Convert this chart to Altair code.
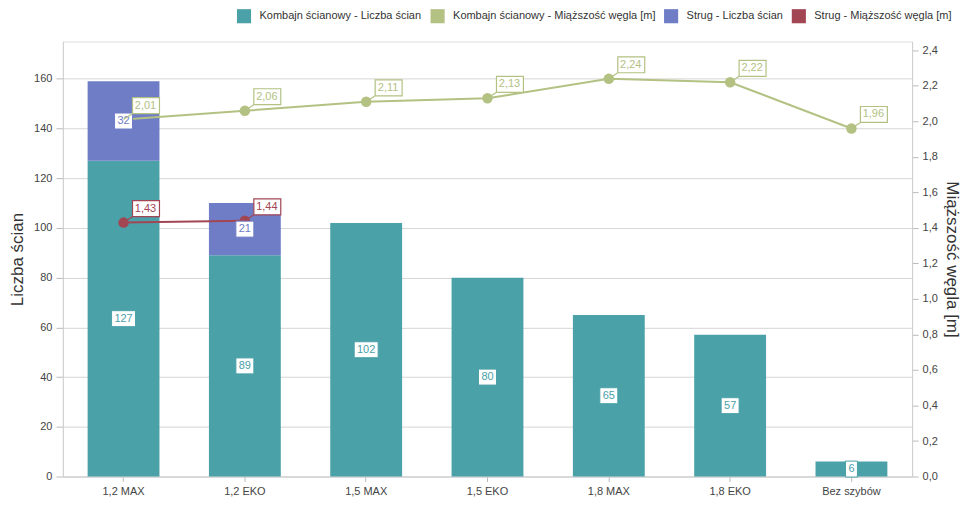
import altair as alt
import pandas as pd

categories = ["1,2 MAX", "1,2 EKO", "1,5 MAX", "1,5 EKO", "1,8 MAX", "1,8 EKO", "Bez szybów"]
kombajn_count = [127, 89, 102, 80, 65, 57, 6]
strug_categories = ["1,2 MAX", "1,2 EKO"]
strug_count = [32, 21]
kombajn_thickness = [2.01, 2.06, 2.11, 2.13, 2.24, 2.22, 1.96]
strug_thickness = [1.43, 1.44]

series = [
    "Kombajn ścianowy - Liczba ścian",
    "Kombajn ścianowy - Miąższość węgla [m]",
    "Strug - Liczba ścian",
    "Strug - Miąższość węgla [m]",
]
colors = ["#4AA1A8", "#B3C183", "#6F7DC6", "#A24654"]
left_ticks = [0, 20, 40, 60, 80, 100, 120, 140, 160]
right_ticks = [0.0, 0.2, 0.4, 0.6, 0.8, 1.0, 1.2, 1.4, 1.6, 1.8, 2.0, 2.2, 2.4]

FONT = "Liberation Sans"

bars_df = pd.DataFrame(
    [{"cat": c, "series": series[0], "value": v, "order": 0} for c, v in zip(categories, kombajn_count)]
    + [{"cat": c, "series": series[2], "value": v, "order": 1} for c, v in zip(strug_categories, strug_count)]
)
lines_df = pd.DataFrame(
    [{"cat": c, "series": series[1], "v": v} for c, v in zip(categories, kombajn_thickness)]
    + [{"cat": c, "series": series[3], "v": v} for c, v in zip(strug_categories, strug_thickness)]
)

xscale = alt.Scale(domain=categories, paddingInner=0.4, paddingOuter=0.2)
ly = alt.Scale(domain=[0, 175], nice=False, zero=True)
ry = alt.Scale(domain=[0, 2.45], nice=False, zero=True)
sc = alt.Scale(domain=series, range=colors)

x_axis = alt.Axis(title=None, labelAngle=0, labelFontSize=11, labelColor="#444",
                  labelFont=FONT, tickSize=5, tickColor="#bbb", domainColor="#cfcfcf",
                  labelPadding=4)
x_enc = alt.X("cat:N", scale=xscale, sort=categories, axis=x_axis)


def box(hw, hh=0.8):
    return f"M{-hw},{-hh}L{hw},{-hh}L{hw},{hh}L{-hw},{hh}Z"


box_paths = [box(0.6), box(0.9), box(1.2), box(1.45)]
line_label_path = "M0,0L0.9,-0.6M0.9,-0.6L3.6,-0.6L3.6,-2.2L0.9,-2.2Z"

stacked = alt.Chart(bars_df).transform_stack(
    stack="value", as_=["y0", "y1"], groupby=["cat"], sort=[alt.SortField("order", order="ascending")]
).transform_calculate(mid="(datum.y0 + datum.y1) / 2", lbl="'' + datum.value",
                      nch="'' + length('' + datum.value)")

bars = stacked.mark_bar(size=72).encode(
    x=x_enc,
    y=alt.Y("y0:Q", scale=ly,
            axis=alt.Axis(orient="left", values=left_ticks, title="Liczba ścian", titleFontSize=17,
                          titleFontWeight="normal", titleColor="#333", titleFont=FONT, labelFont=FONT,
                          labelFontSize=11, labelColor="#444", grid=True, gridColor="#d6d6d6",
                          domainColor="#cfcfcf", tickColor="#bbb", tickSize=7, labelPadding=4,
                          titlePadding=7)),
    y2="y1:Q",
    color=alt.Color("series:N", scale=sc,
                    legend=alt.Legend(title=None, orient="none", legendX=174, legendY=-33,
                                      direction="horizontal", columns=4, symbolType="square",
                                      symbolSize=200, symbolStrokeWidth=0, labelFontSize=11,
                                      labelFont=FONT, labelColor="#333", columnPadding=8,
                                      labelOffset=8, labelLimit=0, values=series)),
)

lines = alt.Chart(lines_df).mark_line(strokeWidth=2).encode(
    x=x_enc,
    y=alt.Y("v:Q", scale=ry,
            axis=alt.Axis(orient="right", values=right_ticks, title="Miąższość węgla [m]", titleFontSize=17,
                          titleFontWeight="normal", titleColor="#333", titleFont=FONT, labelFont=FONT,
                          labelFontSize=11, labelColor="#444", grid=False, domainColor="#cfcfcf",
                          tickColor="#bbb", tickSize=6, labelPadding=4, titlePadding=5,
                          labelExpr="replace(format(datum.value, '.1f'), '.', ',')")),
    stroke=alt.Stroke("series:N", scale=sc, legend=None),
    detail="series:N",
)

points = alt.Chart(lines_df).mark_point(filled=True, size=110, opacity=1).encode(
    x=x_enc,
    y=alt.Y("v:Q", scale=ry, axis=None),
    fill=alt.Fill("series:N", scale=sc, legend=None),
)

bar_boxes = stacked.mark_point(filled=True, fill="white", size=400, opacity=1, strokeWidth=1,
                               strokeOpacity=1).encode(
    x=x_enc,
    y=alt.Y("mid:Q", scale=ly, axis=None),
    shape=alt.Shape("nch:N", scale=alt.Scale(domain=["1", "2", "3", "4"], range=box_paths), legend=None),
    stroke=alt.Stroke("series:N", scale=sc, legend=None),
)
bar_text = stacked.mark_text(fontSize=11, font=FONT, baseline="middle", align="center").encode(
    x=x_enc,
    y=alt.Y("mid:Q", scale=ly, axis=None),
    text="lbl:N",
    fill=alt.Fill("series:N", scale=sc, legend=None),
)

lab = alt.Chart(lines_df).transform_calculate(lbl="replace(format(datum.v, '.2f'), '.', ',')")
line_boxes = lab.mark_point(filled=True, fill="white", size=400, opacity=1, strokeWidth=1.2,
                            strokeOpacity=1, shape=line_label_path).encode(
    x=x_enc,
    y=alt.Y("v:Q", scale=ry, axis=None),
    stroke=alt.Stroke("series:N", scale=sc, legend=None),
)
line_text = lab.mark_text(fontSize=11, font=FONT, baseline="middle", align="center", dx=22, dy=-14).encode(
    x=x_enc,
    y=alt.Y("v:Q", scale=ry, axis=None),
    text="lbl:N",
    fill=alt.Fill("series:N", scale=sc, legend=None),
)

chart = alt.layer(bars, lines, points, bar_boxes, bar_text, line_boxes, line_text).resolve_scale(
    y="independent"
).properties(
    width=851, height=436, padding={"left": 0, "top": 0, "right": 0, "bottom": 0}
).configure_view(stroke="#d9d9d9").configure(background="white")

chart.save("out.html", embed_options={"renderer": "svg", "actions": False})
